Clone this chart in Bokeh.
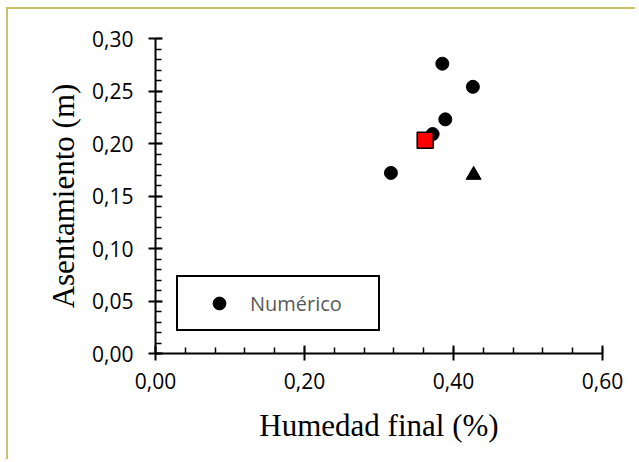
from bokeh.plotting import figure
from bokeh.models import (Range1d, FixedTicker, CustomJSTickFormatter, Legend, LegendItem)
from bokeh.embed import file_html
from bokeh.resources import INLINE

# ---- data ----
num_x = [0.385, 0.426, 0.389, 0.372, 0.316]
num_y = [0.276, 0.254, 0.223, 0.209, 0.172]
sq_x = [0.362]
sq_y = [0.203]
tri_x = [0.427]
tri_y = [0.170]
x_ticks = [0.0, 0.2, 0.4, 0.6]
y_ticks = [0.0, 0.05, 0.10, 0.15, 0.20, 0.25, 0.30]
legend_label = "Numérico"
x_title = "Humedad final (%)"
y_title = "Asentamiento (m)"

W, H = 629, 452
FL, FT, FW, FH = 147, 29, 447, 315
p = figure(width=W, height=H, output_backend="svg", toolbar_location=None,
           x_range=Range1d(0, 0.6), y_range=Range1d(0, 0.30),
           min_border_left=FL, min_border_right=W - FL - FW,
           min_border_top=FT, min_border_bottom=H - FT - FH)
p.styles = {"border-left": "2px solid #c9c26a", "border-top": "2px solid #c9c26a",
            "margin-left": "6px", "margin-top": "7px"}
p.outline_line_color = None
p.grid.visible = False
p.background_fill_color = "white"
p.border_fill_color = "white"

fmt = CustomJSTickFormatter(code="return tick.toFixed(2).replace('.', ',');")
x_minor = [round(i * 0.04, 4) for i in range(16)]
y_minor = [round(i * 0.01, 4) for i in range(31)]
p.xaxis.ticker = FixedTicker(ticks=x_ticks, minor_ticks=x_minor)
p.yaxis.ticker = FixedTicker(ticks=y_ticks, minor_ticks=y_minor)
for ax in (p.xaxis, p.yaxis):
    ax.formatter = fmt
    ax.axis_line_width = 2
    ax.axis_line_color = "black"
    ax.major_tick_line_width = 2
    ax.minor_tick_line_width = 1.5
    ax.major_tick_line_color = "black"
    ax.minor_tick_line_color = "black"
    ax.major_label_text_font = "Open Sans"
    ax.major_label_text_font_size = "21px"
    ax.major_label_text_color = "black"
    ax.axis_label_text_font = "Liberation Serif"
    ax.axis_label_text_font_size = "31px"
    ax.axis_label_text_font_style = "normal"
    ax.axis_label_text_color = "black"
    ax.minor_tick_in = 6
    ax.minor_tick_out = 0
p.xaxis.major_tick_in = 8
p.xaxis.major_tick_out = 7
p.yaxis.major_tick_in = 7
p.yaxis.major_tick_out = 7
p.xaxis.major_label_standoff = 12
p.yaxis.major_label_standoff = 15
p.xaxis.axis_label = x_title
p.yaxis.axis_label = y_title
p.xaxis.axis_label_standoff = 16
p.yaxis.axis_label_standoff = 8

r_num = p.scatter(num_x, num_y, marker="circle", size=13, fill_color="black", line_color="black")
p.scatter(sq_x, sq_y, marker="square", size=16, fill_color="#ff0000", line_color="black", line_width=1.5)
p.scatter(tri_x, tri_y, marker="triangle", size=15, fill_color="black", line_color="black")

legend = Legend(items=[LegendItem(label=legend_label, renderers=[r_num])],
                location=(21, 22), margin=0, padding=10,
                glyph_height=32, glyph_width=62, label_standoff=0, label_width=118,
                label_height=20,
                label_text_font="Open Sans", label_text_font_size="20px",
                label_text_color="#595959",
                border_line_color="black", border_line_width=2, border_line_alpha=1.0,
                background_fill_color="white", background_fill_alpha=1.0)
p.add_layout(legend)

open("out.html", "w").write(file_html(p, INLINE))
